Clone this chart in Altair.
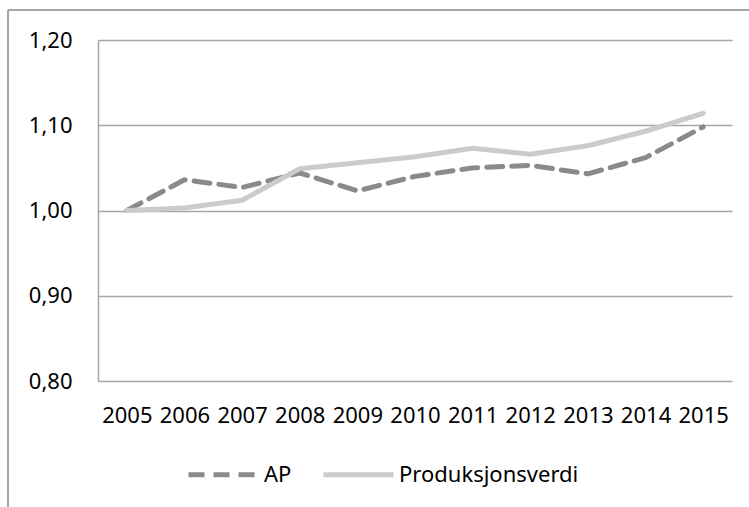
import altair as alt
import pandas as pd

years = ["2005", "2006", "2007", "2008", "2009", "2010", "2011", "2012", "2013", "2014", "2015"]
ap = [1.000, 1.036, 1.027, 1.044, 1.023, 1.040, 1.050, 1.053, 1.043, 1.062, 1.098]
produksjonsverdi = [1.000, 1.003, 1.012, 1.049, 1.056, 1.063, 1.073, 1.066, 1.076, 1.093, 1.114]
series_names = ["AP", "Produksjonsverdi"]
y_ticks = [0.8, 0.9, 1.0, 1.1, 1.2]

rows = []
for name, values in zip(series_names, [ap, produksjonsverdi]):
    for yr, v in zip(years, values):
        rows.append({"year": yr, "value": v, "series": name})
df = pd.DataFrame(rows)

FONT = "Noto Sans"
FS = 22

lines = alt.Chart(df).mark_line(strokeWidth=5, strokeCap="round", strokeJoin="round").encode(
    x=alt.X(
        "year:O",
        sort=years,
        scale=alt.Scale(type="point", padding=0.5),
        axis=alt.Axis(
            title=None, labelAngle=0, ticks=False, domain=False, grid=False,
            labelFont=FONT, labelFontSize=FS, labelColor="#000000", labelPadding=24,
        ),
    ),
    y=alt.Y(
        "value:Q",
        scale=alt.Scale(domain=[0.8, 1.2], nice=False, zero=False),
        axis=alt.Axis(
            title=None, values=y_ticks, ticks=False, domain=True, domainColor="#a6a6a6",
            domainWidth=1.5, grid=True, gridColor="#a6a6a6", gridWidth=1.5,
            labelFont=FONT, labelFontSize=FS, labelColor="#000000", labelPadding=26,
            labelExpr="replace(format(datum.value, '.2f'), '.', ',')",
        ),
    ),
    color=alt.Color(
        "series:N",
        sort=series_names,
        scale=alt.Scale(domain=series_names, range=["#8a8a8a", "#cbcbcb"]),
        legend=alt.Legend(
            title=None, orient="none", direction="horizontal", legendX=88, legendY=397,
            symbolType="stroke", symbolSize=4900, symbolStrokeWidth=5,
            labelFont=FONT, labelFontSize=FS, labelColor="#000000", labelLimit=400,
            labelOffset=3, columnPadding=21,
        ),
    ),
    strokeDash=alt.StrokeDash(
        "series:N",
        sort=series_names,
        scale=alt.Scale(domain=series_names, range=[[16, 9], [1, 0]]),
        legend=None,
    ),
)

# outer frame (top and left edges)
frame_top = alt.Chart(df).mark_rule(color="#a6a6a6", strokeWidth=1.5).encode(
    x=alt.value(-90), x2=alt.value(660), y=alt.value(-30)
)
frame_left = alt.Chart(df).mark_rule(color="#a6a6a6", strokeWidth=1.5).encode(
    x=alt.value(-90), y=alt.value(-30), y2=alt.value(470)
)

chart = alt.layer(frame_top, frame_left, lines).properties(
    width=634,
    height=341,
    autosize=alt.AutoSizeParams(type="none"),
    padding={"left": 98, "top": 40, "right": 17, "bottom": 126},
    background="#ffffff",
).configure_view(stroke=None)

chart.save("out.html", embed_options={"renderer": "svg", "actions": False})
